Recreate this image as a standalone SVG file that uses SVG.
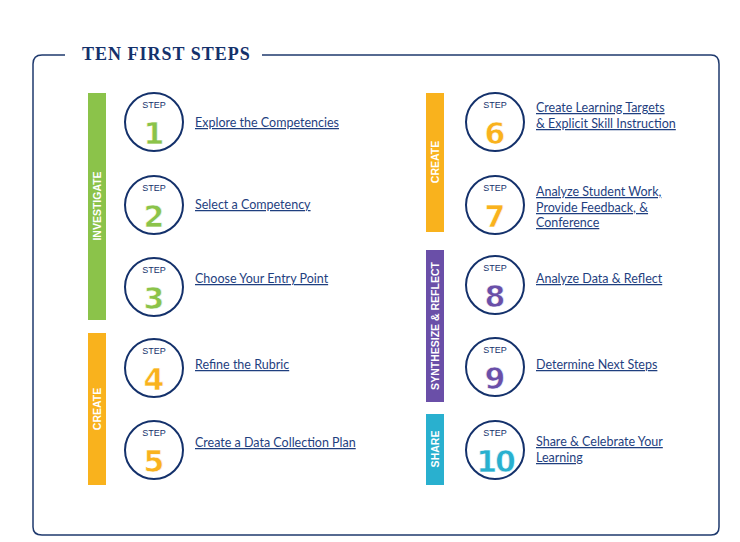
<svg xmlns="http://www.w3.org/2000/svg" width="740" height="542" viewBox="0 0 740 542">
<style>
.c{fill:#fff;stroke:#14316b;stroke-width:2}
.st{font-family:"Liberation Sans",sans-serif;font-size:9px;fill:#14316b;text-anchor:middle}
.n{font-family:"DejaVu Sans",sans-serif;font-weight:bold;font-size:30px;text-anchor:middle;stroke:#fff;stroke-width:0.6}
.l{font-family:Lato,"Liberation Sans",sans-serif;font-size:12.5px;fill:#1f3f7f;text-decoration:underline}
.b{font-family:"Liberation Sans",sans-serif;font-weight:bold;font-size:10.5px;fill:#fff;text-anchor:middle}
</style>
<rect width="740" height="542" fill="#fff"/>
<path d="M65,55 H42 Q33,55 33,64 V527 Q33,535 42,535 H711 Q719,535 719,527 V64 Q719,55 711,55 H262" fill="none" stroke="#1f3a6e" stroke-width="1.5"/>
<text x="82" y="60" font-family="Liberation Serif,serif" font-weight="bold" font-size="18" fill="#14316b" letter-spacing="1">TEN FIRST STEPS</text>
<g id="bars">
<rect x="88" y="93" width="18" height="227" fill="#8bc34a"/><text class="b" transform="translate(101,206) rotate(-90)">INVESTIGATE</text>
<rect x="88" y="333" width="18" height="152" fill="#f9b21d"/><text class="b" transform="translate(101,409) rotate(-90)">CREATE</text>
<rect x="426" y="93" width="18" height="139" fill="#f9b21d"/><text class="b" transform="translate(439,162) rotate(-90)">CREATE</text>
<rect x="426" y="250" width="18" height="152" fill="#6a4fa8"/><text class="b" transform="translate(439,326) rotate(-90)">SYNTHESIZE &amp; REFLECT</text>
<rect x="426" y="414" width="18" height="71" fill="#29b0cf"/><text class="b" transform="translate(439,449) rotate(-90)">SHARE</text>
</g>
<g id="s1" transform="translate(154,122)"><circle class="c" r="29"/><text class="st" x="0" y="-14">STEP</text><text class="n" y="22" fill="#8bc34a">1</text></g>
<g id="s2" transform="translate(154,205)"><circle class="c" r="29"/><text class="st" x="0" y="-14">STEP</text><text class="n" y="22" fill="#8bc34a">2</text></g>
<g id="s3" transform="translate(154,287)"><circle class="c" r="29"/><text class="st" x="0" y="-14">STEP</text><text class="n" y="22" fill="#8bc34a">3</text></g>
<g id="s4" transform="translate(154,368)"><circle class="c" r="29"/><text class="st" x="0" y="-14">STEP</text><text class="n" y="22" fill="#f9b21d">4</text></g>
<g id="s5" transform="translate(154,450)"><circle class="c" r="29"/><text class="st" x="0" y="-14">STEP</text><text class="n" y="22" fill="#f9b21d">5</text></g>
<g id="s6" transform="translate(495,122)"><circle class="c" r="29"/><text class="st" x="0" y="-14">STEP</text><text class="n" y="22" fill="#f9b21d">6</text></g>
<g id="s7" transform="translate(495,205)"><circle class="c" r="29"/><text class="st" x="0" y="-14">STEP</text><text class="n" y="22" fill="#f9b21d">7</text></g>
<g id="s8" transform="translate(495,285)"><circle class="c" r="29"/><text class="st" x="0" y="-14">STEP</text><text class="n" y="22" fill="#6a4fa8">8</text></g>
<g id="s9" transform="translate(495,367)"><circle class="c" r="29"/><text class="st" x="0" y="-14">STEP</text><text class="n" y="22" fill="#6a4fa8">9</text></g>
<g id="s10" transform="translate(495,450)"><circle class="c" r="29"/><text class="st" x="0" y="-14">STEP</text><text class="n" y="22" fill="#29b0cf" font-size="26" letter-spacing="-2">10</text></g>
<g id="labels">
<text class="l" x="195" y="127">Explore the Competencies</text>
<text class="l" x="195" y="209">Select a Competency</text>
<text class="l" x="195" y="283">Choose Your Entry Point</text>
<text class="l" x="195" y="369">Refine the Rubric</text>
<text class="l" x="195" y="447">Create a Data Collection Plan</text>
<text class="l" x="536" y="112">Create Learning Targets</text>
<text class="l" x="536" y="128">&amp; Explicit Skill Instruction</text>
<text class="l" x="536" y="196">Analyze Student Work,</text>
<text class="l" x="536" y="212">Provide Feedback, &amp;</text>
<text class="l" x="536" y="227">Conference</text>
<text class="l" x="536" y="283">Analyze Data &amp; Reflect</text>
<text class="l" x="536" y="369">Determine Next Steps</text>
<text class="l" x="536" y="446">Share &amp; Celebrate Your</text>
<text class="l" x="536" y="462">Learning</text>
</g>
</svg>
